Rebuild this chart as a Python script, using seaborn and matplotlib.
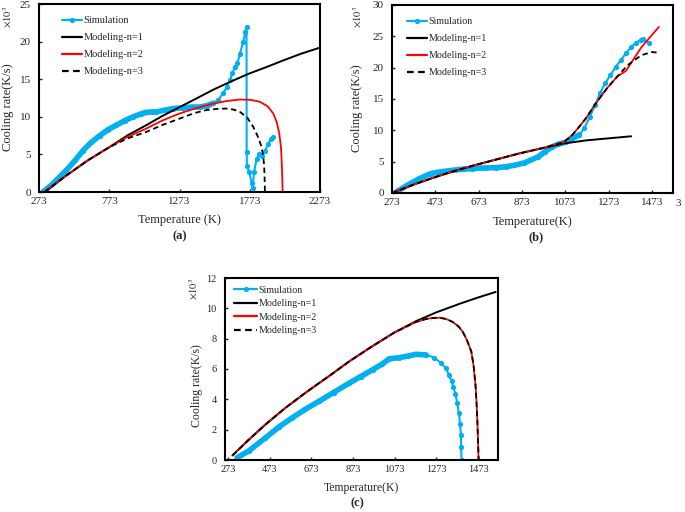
import matplotlib
matplotlib.use("Agg")
import matplotlib.pyplot as plt
import seaborn as sns

# ---------------- panel (a) ----------------
a_sim_T = [301, 360, 420, 468, 530, 586, 645, 705, 765, 824, 885, 943, 1000, 1038,
           1075, 1109, 1170, 1228, 1300, 1360, 1418, 1470, 1513, 1550, 1584, 1610,
           1632, 1650, 1667, 1685, 1703, 1727, 1742, 1750, 1751, 1753, 1770, 1787,
           1794, 1803, 1822, 1840, 1860, 1880, 1905, 1925, 1940]
a_sim_rate = [0.0, 0.9, 2.0, 2.9, 4.2, 5.5, 6.6, 7.5, 8.3, 8.9, 9.5, 10.0, 10.4, 10.6,
              10.65, 10.65, 10.9, 11.1, 11.2, 11.3, 11.3, 11.5, 11.8, 12.3, 13.1, 14.0,
              14.9, 15.8, 16.6, 17.1, 18.4, 20.0, 21.3, 22.0, 5.3, 3.5, 2.6, 1.2,
              0.5, 2.6, 4.4, 5.1, 4.8, 5.4, 6.4, 7.1, 7.3]
a_n1_T = [313, 468, 620, 777, 900, 1038, 1150, 1275, 1400, 1513, 1640, 1762, 1890, 2012, 2140, 2273]
a_n1_rate = [0.0, 2.2, 4.2, 6.0, 7.5, 8.9, 10.1, 11.3, 12.5, 13.6, 14.7, 15.7, 16.6, 17.5, 18.4, 19.2]
a_n2_T = [313, 468, 620, 777, 900, 1038, 1150, 1275, 1400, 1513, 1610, 1703, 1780, 1845,
          1900, 1940, 1965, 1983, 1995, 2000, 2004, 2007]
a_n2_rate = [0.0, 2.2, 4.2, 6.0, 7.3, 8.45, 9.5, 10.45, 11.2, 11.75, 12.1, 12.3, 12.25, 12.0,
             11.4, 10.45, 9.3, 7.8, 6.0, 4.2, 2.2, 0.0]
a_n3_T = [313, 468, 620, 777, 900, 1038, 1150, 1275, 1380, 1465, 1540, 1608, 1660, 1703,
          1755, 1798, 1830, 1857, 1870, 1876, 1879, 1881]
a_n3_rate = [0.0, 2.2, 4.2, 6.0, 7.1, 8.0, 8.9, 9.77, 10.5, 10.9, 11.05, 11.1, 10.95, 10.65,
             9.9, 8.66, 7.4, 6.0, 4.6, 3.3, 1.6, 0.0]

# ---------------- panel (b) ----------------
b_sim_T = [285, 356, 400, 452, 500, 547, 600, 643, 700, 755, 800, 835, 883, 946, 980,
           1010, 1040, 1074, 1106, 1138, 1160, 1185, 1210, 1233, 1257, 1281, 1305, 1329,
           1353, 1377, 1400, 1420, 1433, 1457]
b_sim_rate = [0.0, 1.5, 2.3, 3.1, 3.4, 3.6, 3.8, 3.9, 4.0, 4.05, 4.2, 4.4, 4.8, 5.75, 6.6,
              7.35, 7.8, 8.1, 8.7, 9.3, 10.3, 12.1, 14.0, 15.9, 17.5, 18.8, 20.1, 21.2,
              22.3, 23.3, 24.0, 24.4, 24.5, 24.0]
b_n1_T = [273, 370, 452, 550, 651, 760, 859, 960, 1066, 1170, 1265, 1377]
b_n1_rate = [0.0, 1.3, 2.3, 3.4, 4.4, 5.4, 6.3, 7.1, 7.9, 8.4, 8.7, 9.05]
b_n2_T = [273, 370, 452, 550, 651, 760, 859, 960, 1066, 1106, 1138, 1170, 1202, 1233,
          1265, 1313, 1353, 1425, 1505]
b_n2_rate = [0.0, 1.3, 2.3, 3.4, 4.4, 5.4, 6.3, 7.1, 8.1, 9.3, 10.6, 12.0, 13.7, 15.2,
             16.7, 18.6, 19.5, 23.3, 26.5]
b_n3_T = [273, 370, 452, 550, 651, 760, 859, 960, 1066, 1106, 1138, 1170, 1202, 1233,
          1265, 1313, 1361, 1400, 1425, 1473, 1497]
b_n3_rate = [0.0, 1.3, 2.3, 3.4, 4.4, 5.4, 6.3, 7.1, 8.1, 9.3, 10.6, 12.0, 13.7, 15.2,
             16.7, 18.6, 20.4, 21.4, 22.0, 22.5, 22.4]

# ---------------- panel (c) ----------------
c_sim_T = [317, 373, 453, 520, 581, 645, 710, 780, 855, 910, 967, 1010, 1047, 1095, 1135,
           1175, 1224, 1264, 1296, 1320, 1333, 1347, 1355, 1365, 1373, 1381, 1387, 1391,
           1392, 1394]
c_sim_rate = [0.15, 0.6, 1.46, 2.2, 2.78, 3.35, 3.87, 4.45, 5.07, 5.5, 5.95, 6.3, 6.67, 6.75,
              6.85, 6.97, 6.93, 6.75, 6.38, 6.05, 5.62, 5.18, 4.79, 4.35, 3.76, 3.1, 2.4,
              1.68, 0.87, 0.0]
c_n1_T = [295, 370, 453, 550, 654, 760, 855, 960, 1071, 1175, 1272, 1385, 1470, 1558]
c_n1_rate = [0.3, 1.3, 2.34, 3.45, 4.52, 5.55, 6.5, 7.45, 8.4, 9.15, 9.73, 10.3, 10.7, 11.08]
c_n2_T = [295, 370, 453, 550, 654, 760, 855, 960, 1071, 1175, 1224, 1260, 1288, 1320, 1352,
          1380, 1400, 1420, 1441, 1452, 1461, 1466, 1470, 1473, 1476]
c_n2_rate = [0.3, 1.3, 2.34, 3.45, 4.52, 5.55, 6.5, 7.45, 8.4, 9.1, 9.3, 9.37, 9.38, 9.3, 9.1,
             8.8, 8.45, 7.9, 7.15, 6.2, 4.96, 3.8, 2.56, 1.3, 0.0]
c_n3_T = c_n2_T
c_n3_rate = c_n2_rate

SIM_COLOR = "#00B0F0"

sns.set_style("ticks")
plt.rcParams["font.family"] = ["Liberation Serif", "DejaVu Serif"]
plt.rcParams["mathtext.fontset"] = "stix"

fig = plt.figure(figsize=(6.85, 5.12), dpi=100)

W, H = 685, 512


def px_axes(left, top, right, bottom):
    # axes box given in picture pixels
    return fig.add_axes([left / W, 1 - bottom / H, (right - left) / W, (bottom - top) / H])


def draw_panel(ax, sim, band_n, n1, n2, n3, xlim, xticks, ylim, yticks, tick_fs, label_fs,
               leg_fs, leg_anchor, leg_spacing, leg_hl, ylab_xy, mult_xy):
    # the densely sampled early part of the simulation reads as a thick band
    sns.lineplot(x=sim[0][:band_n], y=sim[1][:band_n], ax=ax, color=SIM_COLOR,
                 linewidth=4.0, sort=False, estimator=None)
    sns.lineplot(x=sim[0], y=sim[1], ax=ax, color=SIM_COLOR, linewidth=1.5, marker="o",
                 markersize=3.8, markeredgewidth=0, sort=False, estimator=None,
                 label="Simulation")
    sns.lineplot(x=n1[0], y=n1[1], ax=ax, color="black", linewidth=1.4, sort=False,
                 estimator=None, label="Modeling-n=1")
    sns.lineplot(x=n2[0], y=n2[1], ax=ax, color="red", linewidth=1.3, sort=False,
                 estimator=None, label="Modeling-n=2")
    sns.lineplot(x=n3[0], y=n3[1], ax=ax, color="black", linewidth=1.3,
                 linestyle=(0, (3, 2)), sort=False, estimator=None, label="Modeling-n=3")

    ax.set_xlim(*xlim)
    ax.set_ylim(*ylim)
    ax.set_xticks(xticks)
    ax.set_yticks(yticks)
    ax.tick_params(axis="both", direction="in", length=2.5, width=1, labelsize=tick_fs)
    ax.tick_params(axis="y", pad=6)
    for sp in ax.spines.values():
        sp.set_linewidth(1.5)
        sp.set_color("black")

    ax.set_ylabel("Cooling rate(K/s)", fontsize=label_fs)
    ax.yaxis.set_label_coords(*ylab_xy)
    ax.yaxis.label.set_va("center")
    ax.text(mult_xy[0], mult_xy[1], r"$\times10^3$", transform=ax.transAxes, rotation=90,
            ha="center", va="center", fontsize=7.5)

    leg = ax.legend(loc="upper left", bbox_to_anchor=leg_anchor, frameon=False,
                    fontsize=leg_fs, borderpad=0, borderaxespad=0,
                    handlelength=leg_hl, handletextpad=0.15, labelspacing=leg_spacing)
    for h in leg.legend_handles:
        h.set_linewidth(1.6)
    return ax


ax_a = px_axes(39, 4, 320, 192)
draw_panel(ax_a, (a_sim_T, a_sim_rate), 23, (a_n1_T, a_n1_rate), (a_n2_T, a_n2_rate),
           (a_n3_T, a_n3_rate), (273, 2273), [273, 773, 1273, 1773, 2273], (0, 25),
           range(0, 26, 5), 8, 9, 7.5, (0.082, 0.936), 0.74, 1.9,
           (-0.11, 0.45), (-0.11, 0.93))
ax_a.set_xlabel("Temperature (K)", fontsize=9)
ax_a.xaxis.set_label_coords(0.5, -0.148)
ax_a.xaxis.label.set_va("center")

ax_b = px_axes(392, 5, 673, 193)
draw_panel(ax_b, (b_sim_T, b_sim_rate), 20, (b_n1_T, b_n1_rate), (b_n2_T, b_n2_rate),
           (b_n3_T, b_n3_rate), (273, 1570), [273, 473, 673, 873, 1073, 1273, 1473],
           (0, 30), range(0, 31, 5), 8, 9, 7.2, (0.053, 0.936), 0.81, 2.0,
           (-0.125, 0.45), (-0.121, 0.936))
ax_b.set_xlabel("Temperature(K)", fontsize=9)
ax_b.xaxis.set_label_coords(0.5, -0.154)
ax_b.xaxis.label.set_va("center")

ax_c = px_axes(225, 278, 498, 460)
draw_panel(ax_c, (c_sim_T, c_sim_rate), 17, (c_n1_T, c_n1_rate), (c_n2_T, c_n2_rate),
           (c_n3_T, c_n3_rate), (259, 1569), [273, 473, 673, 873, 1073, 1273, 1473],
           (0, 12), range(0, 13, 2), 7.5, 8.5, 7.2, (0.033, 0.957), 0.44, 2.3,
           (-0.103, 0.41), (-0.114, 0.94))
ax_c.set_xlabel("Temperature(K)", fontsize=8.5)
ax_c.xaxis.set_label_coords(0.5, -0.154)
ax_c.xaxis.label.set_va("center")

# panel captions
fig.text(180 / W, 1 - 236 / H, "(a)", ha="center", va="center", fontsize=9, fontweight="bold")
fig.text(536 / W, 1 - 237 / H, "(b)", ha="center", va="center", fontsize=9, fontweight="bold")
fig.text(357 / W, 1 - 503 / H, "(c)", ha="center", va="center", fontsize=9, fontweight="bold")
# stray clipped tick digit at the right of panel (b)
fig.text(678 / W, 1 - 203 / H, "3", ha="center", va="center", fontsize=8)

fig.savefig("out.png", dpi=100, facecolor="white")
